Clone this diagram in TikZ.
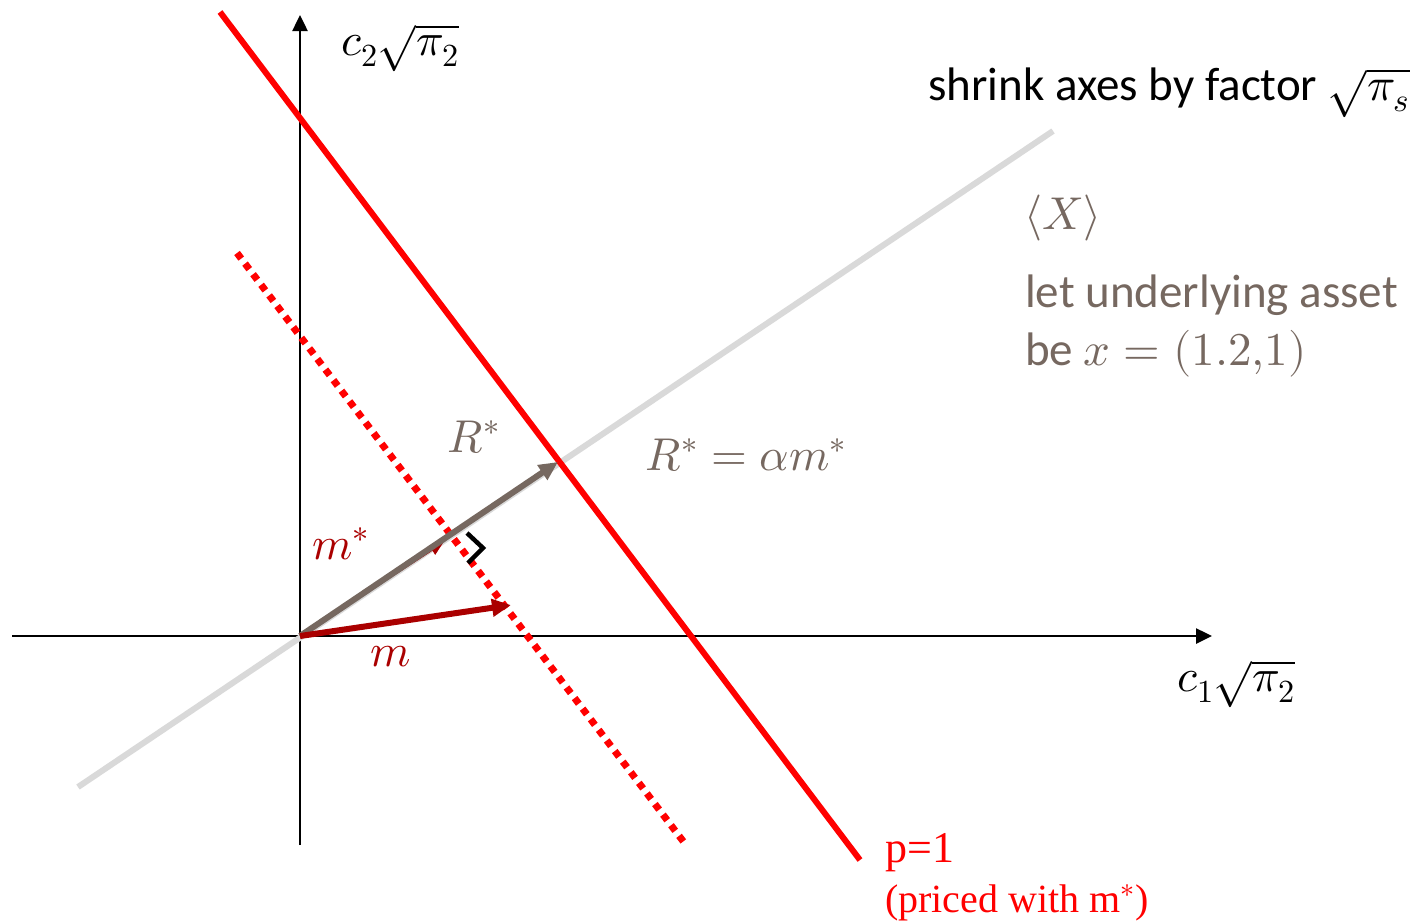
\documentclass[tikz,border=0pt]{standalone}
\usepackage{fontspec}
\usepackage{unicode-math}
\newfontfamily\carl{Carlito}
\newfontfamily\tms{Liberation Serif}
\usetikzlibrary{arrows.meta}
\definecolor{rd}{RGB}{255,0,0}
\definecolor{dred}{RGB}{170,0,0}
\definecolor{gb}{RGB}{118,104,96}
\definecolor{lg}{RGB}{217,217,217}
\tikzset{
  axis/.style={line width=2.5pt,-{Triangle[length=16pt,width=15pt]}},
  lbl/.style={inner sep=0pt,font=\fontsize{46}{54}\selectfont},
  carltext/.style={inner sep=0pt,font=\carl\fontsize{47}{56}\selectfont,align=left},
}
\begin{document}
\begin{tikzpicture}[x=1pt,y=-1pt]
\useasboundingbox[fill=white] (0,0) rectangle (1420,922);
\coordinate (O) at (300,636);
\coordinate (xs) at (12,636); \coordinate (xe) at (1212,636);
\coordinate (ys) at (300,845); \coordinate (ye) at (300,15);
\coordinate (g1) at (78,787); \coordinate (g2) at (1053,131);
\coordinate (r1) at (220,12); \coordinate (r2) at (860,860);
\coordinate (d1) at (237,253); \coordinate (d2) at (686,845);
\coordinate (Rt) at (558,462);
\coordinate (mst) at (443,543);
\coordinate (mt) at (511,605);
\coordinate (ra1) at (467,533); \coordinate (ra2) at (483,548); \coordinate (ra3) at (468,563);
% axes
\draw[axis] (xs) -- (xe);
\draw[axis] (ys) -- (ye);
% gray span line
\draw[lg,line width=6pt] (g1) -- (g2);
% price lines
\draw[rd,line width=6pt] (r1) -- (r2);
\draw[rd,line width=7pt,dash pattern=on 7pt off 6.3pt] (d1) -- (d2);
% vectors
\draw[dred,line width=1.5pt,-{Triangle[length=13pt,width=11pt]}] (O) -- (mst);
\draw[gb,line width=6pt,-{Triangle[length=19pt,width=17pt]}] (O) -- (Rt);
\draw[dred,line width=6pt,-{Triangle[length=19pt,width=17pt]}] (O) -- (mt);
% right angle
\draw[black,line width=4.5pt] (ra1) -- (ra2) -- (ra3);
% labels
\node[lbl] (c2) at (400,48) {$c_2\sqrt{\pi_2}$};
\node[lbl] (c1) at (1236,684) {$c_1\sqrt{\pi_2}$};
\node[carltext,anchor=base west] (shrink) at (928,100) {shrink axes by factor $\sqrt{\pi_s}$};
\node[lbl,text=gb] (X) at (1063,218) {$\langle X\rangle$};
\node[carltext,text=gb,anchor=base west] (asset1) at (1025,307) {let underlying asset};
\node[carltext,text=gb,anchor=base west] (asset2) at (1025,365) {be $x=(1.2{,}1)$};
\node[lbl,text=gb] (Rl) at (474,437) {$R^*$};
\node[lbl,text=gb] (Req) at (746,455) {$R^*=\alpha m^*$};
\node[lbl,text=dred] (msl) at (341,544) {$m^*$};
\node[lbl,text=dred] (ml) at (391,657) {$m$};
\node[inner sep=0pt,anchor=base west,text=rd,font=\tms\fontsize{44}{52}\selectfont] (p1) at (885,862) {p=1};
\node[inner sep=0pt,anchor=base west,text=rd,font=\tms\fontsize{40}{46}\selectfont] (priced) at (885,912) {(priced with m$^*$)};
\end{tikzpicture}
\end{document}
